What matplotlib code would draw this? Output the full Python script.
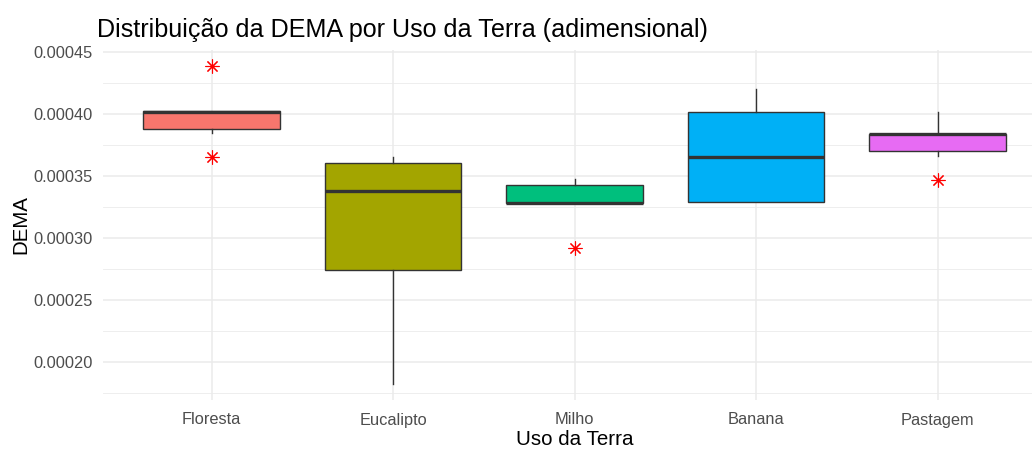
import matplotlib
matplotlib.use("Agg")
import matplotlib.pyplot as plt
from matplotlib.ticker import MultipleLocator, FuncFormatter

# ---- data (box statistics) ----
categories = ["Floresta", "Eucalipto", "Milho", "Banana", "Pastagem"]
whislo = [0.0003847, 0.0001823, 0.0003280, 0.0003288, 0.0003661]
q1     = [0.0003879, 0.0002740, 0.0003280, 0.0003288, 0.0003699]
med    = [0.0004017, 0.0003377, 0.0003285, 0.0003651, 0.0003835]
q3     = [0.0004024, 0.0003605, 0.0003425, 0.0004016, 0.0003839]
whishi = [0.0004024, 0.0003656, 0.0003473, 0.0004202, 0.0004019]
fliers = [[0.0004387, 0.0003653], [], [0.0002917], [], [0.0003468]]
colors = ["#F8766D", "#A3A500", "#00BF7D", "#00B0F6", "#E76BF3"]

plt.rcParams["font.family"] = ["Liberation Sans", "DejaVu Sans"]

fig = plt.figure(figsize=(10.32, 4.49), dpi=100)
ax = fig.add_axes([102.6 / 1032, 1 - 400 / 449, (1046.4 - 102.6) / 1032, 350 / 449])

stats = []
for i, c in enumerate(categories):
    stats.append(dict(label=c, whislo=whislo[i], q1=q1[i], med=med[i], q3=q3[i],
                      whishi=whishi[i], fliers=fliers[i]))

positions = list(range(1, len(categories) + 1))
bp = ax.bxp(stats, positions=positions, widths=0.75, patch_artist=True,
            showcaps=False, showfliers=True, zorder=3,
            boxprops=dict(edgecolor="#333333", linewidth=1.0),
            medianprops=dict(color="#333333", linewidth=2.4, solid_capstyle="butt"),
            whiskerprops=dict(color="#333333", linewidth=1.0),
            flierprops=dict(marker=(8, 2, 0), markersize=10, markeredgecolor="red",
                            markerfacecolor="red", markeredgewidth=0.8, linestyle="none"))
for patch, col in zip(bp["boxes"], colors):
    patch.set_facecolor(col)

# axis limits like ggplot (5% expansion continuous, 0.6 discrete)
allvals = whislo + whishi + [v for f in fliers for v in f]
lo, hi = min(allvals), max(allvals)
pad = (hi - lo) * 0.05
ax.set_ylim(lo - pad, hi + pad)
ax.set_xlim(0.4, len(categories) + 0.6)

ax.yaxis.set_major_locator(MultipleLocator(0.00005))
ax.yaxis.set_minor_locator(MultipleLocator(0.000025))
ax.yaxis.set_major_formatter(FuncFormatter(lambda v, p: f"{v:.5f}"))
ax.set_xticks(positions)
ax.set_xticklabels(categories)

ax.grid(which="major", color="#EBEBEB", linewidth=1.1, zorder=0)
ax.grid(which="minor", axis="y", color="#EBEBEB", linewidth=0.6, zorder=0)
ax.set_axisbelow(True)
for s in ax.spines.values():
    s.set_visible(False)
ax.tick_params(which="both", length=0)
ax.tick_params(axis="y", labelsize=11.8, labelcolor="#4D4D4D", pad=7)
ax.tick_params(axis="x", labelsize=11.8, labelcolor="#4D4D4D", pad=9)

ax.set_xlabel("Uso da Terra", fontsize=14.8, color="black", labelpad=2)
ax.set_ylabel("DEMA", fontsize=14.8, color="black", labelpad=2)
fig.text(97 / 1032, 1 - 37 / 449, "Distribuição da DEMA por Uso da Terra (adimensional)",
         fontsize=18.1, color="black", ha="left", va="baseline")

fig.savefig("out.png", dpi=100)
